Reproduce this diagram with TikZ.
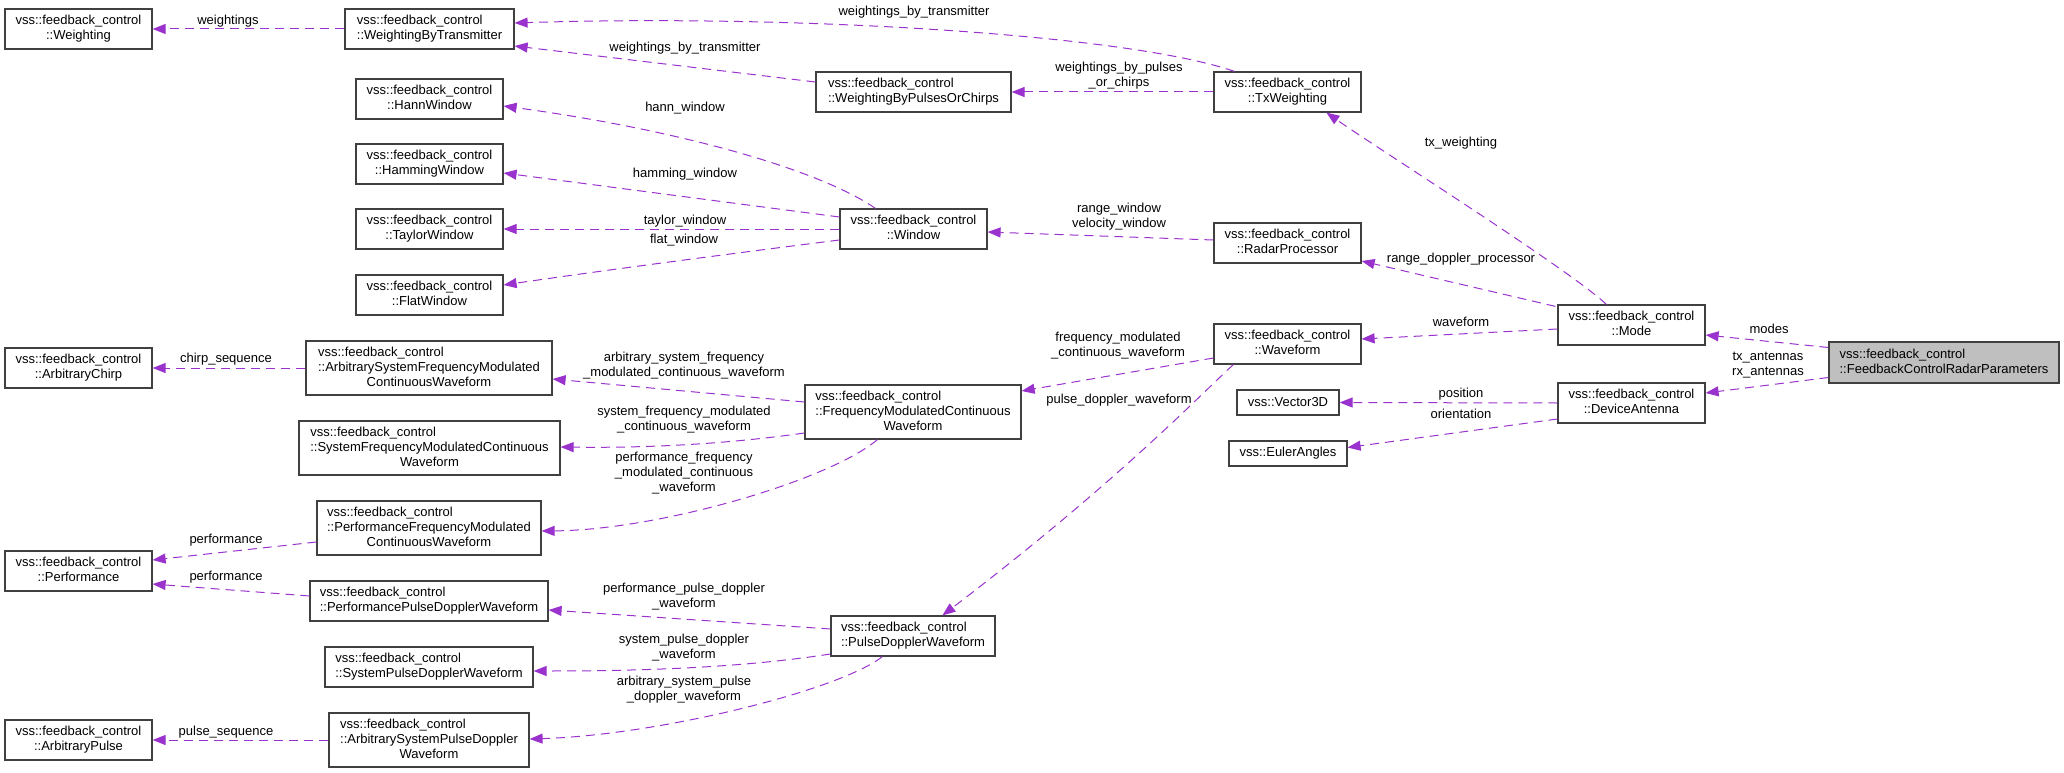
\documentclass[tikz,border=0pt]{standalone}
\usepackage{fontspec}
\setmainfont{Liberation Sans}
\usetikzlibrary{arrows.meta,calc}
\definecolor{edgec}{HTML}{9A32CD}
\definecolor{boxc}{HTML}{404040}
\definecolor{mainfill}{HTML}{BFBFBF}
\newcommand\fs{\fontsize{13}{15}\selectfont}
\newcommand\clsb[2]{\begin{tabular}{@{}l@{}}#1\\\multicolumn{1}{@{}c@{}}{#2}\end{tabular}}
\newcommand\clsc[3]{\begin{tabular}{@{}l@{}}#1\\#2\\\multicolumn{1}{@{}c@{}}{#3}\end{tabular}}
\newcommand\vfc{vss::feedback\_control}
\begin{document}
\begin{tikzpicture}[x=1pt,y=-1pt,
  cls/.style={draw=boxc, line width=1.2pt, fill=white, inner sep=0pt, font=\fs, text=black},
  bx/.style={cls, minimum width=147pt, minimum height=40pt},
  lab/.style={font=\fs, align=center, inner sep=0pt, text=black},
  rel/.style={draw=edgec, line width=1pt, dash pattern=on 9pt off 6pt, -{Triangle[length=13pt,width=10pt]}}]
\useasboundingbox (0,0) rectangle (2064,773);

% ---- nodes ----
\node[bx] (wt) at (78.5,29) {\clsb{\vfc}{::Weighting}};
\node[cls, minimum width=169pt, minimum height=40pt] (wbt) at (429.5,29) {\clsb{\vfc}{::WeightingByTransmitter}};
\node[cls, minimum width=195pt, minimum height=40pt] (wbpoc) at (913.5,92) {\clsb{\vfc}{::WeightingByPulsesOrChirps}};
\node[bx] (txw) at (1287.5,92) {\clsb{\vfc}{::TxWeighting}};
\node[bx] (hann) at (429.5,99) {\clsb{\vfc}{::HannWindow}};
\node[bx] (hamm) at (429.5,164) {\clsb{\vfc}{::HammingWindow}};
\node[bx] (taylor) at (429.5,229) {\clsb{\vfc}{::TaylorWindow}};
\node[bx] (flat) at (429.5,295) {\clsb{\vfc}{::FlatWindow}};
\node[bx] (win) at (913.5,229) {\clsb{\vfc}{::Window}};
\node[bx] (rp) at (1287.5,243) {\clsb{\vfc}{::RadarProcessor}};
\node[bx] (mode) at (1631.5,325) {\clsb{\vfc}{::Mode}};
\node[cls, fill=mainfill, minimum width=230pt, minimum height=41pt] (fcrp) at (1944,362.5) {\clsb{\vfc}{::FeedbackControlRadarParameters}};
\node[bx] (da) at (1631.5,403) {\clsb{\vfc}{::DeviceAntenna}};
\node[bx] (wave) at (1287.5,344) {\clsb{\vfc}{::Waveform}};
\node[cls, minimum width=102pt, minimum height=25pt] (v3d) at (1288,402.5) {vss::Vector3D};
\node[cls, minimum width=118pt, minimum height=25pt] (euler) at (1288,453.5) {vss::EulerAngles};
\node[cls, minimum width=216pt, minimum height=54pt] (fmcw) at (913,412) {\clsc{\vfc}{::FrequencyModulatedContinuous}{Waveform}};
\node[bx] (achirp) at (78.5,368) {\clsb{\vfc}{::ArbitraryChirp}};
\node[cls, minimum width=246pt, minimum height=54pt] (asfmcw) at (429,368) {\clsc{\vfc}{::ArbitrarySystemFrequencyModulated}{ContinuousWaveform}};
\node[cls, minimum width=261pt, minimum height=54pt] (sfmcw) at (429.5,448) {\clsc{\vfc}{::SystemFrequencyModulatedContinuous}{Waveform}};
\node[cls, minimum width=224pt, minimum height=54pt] (pfmcw) at (429,528) {\clsc{\vfc}{::PerformanceFrequencyModulated}{ContinuousWaveform}};
\node[bx] (perf) at (78.5,571) {\clsb{\vfc}{::Performance}};
\node[cls, minimum width=238pt, minimum height=40pt] (ppdw) at (429,601) {\clsb{\vfc}{::PerformancePulseDopplerWaveform}};
\node[cls, minimum width=208pt, minimum height=40pt] (spdw) at (429,667) {\clsb{\vfc}{::SystemPulseDopplerWaveform}};
\node[cls, minimum width=200pt, minimum height=54pt] (aspdw) at (429,740) {\clsc{\vfc}{::ArbitrarySystemPulseDoppler}{Waveform}};
\node[bx] (apulse) at (78.5,740) {\clsb{\vfc}{::ArbitraryPulse}};
\node[cls, minimum width=164pt, minimum height=40pt] (pdw) at (913,636) {\clsb{\vfc}{::PulseDopplerWaveform}};

% ---- connectors ----
\draw[rel] (wbt.west) -- (wt.east);
\draw[rel] ($(txw.north west)+(21,0)$) .. controls (1130,35) and (800,14) .. ($(wbt.east)+(0,-6)$);
\draw[rel] ($(wbpoc.west)+(0,-10)$) -- ($(wbt.east)+(0,17)$);
\draw[rel] (txw.west) -- (wbpoc.east);
\draw[rel] ($(win.north west)+(36,0)$) .. controls (820,170) and (680,130) .. ($(hann.east)+(0,7)$);
\draw[rel] ($(win.west)+(0,-12)$) -- ($(hamm.east)+(0,9)$);
\draw[rel] (win.west) -- (taylor.east);
\draw[rel] ($(win.west)+(0,11)$) .. controls (760,250) and (620,268) .. ($(flat.east)+(0,-10)$);
\draw[rel] ($(rp.west)+(0,-3)$) -- ($(win.east)+(0,3)$);
\draw[rel] ($(mode.north west)+(49,0)$) .. controls (1570,270) and (1380,150) .. ($(txw.south west)+(113,0)$);
\draw[rel] ($(mode.north west)+(-2,2)$) -- ($(rp.east)+(0,18)$);
\draw[rel] ($(mode.west)+(0,4)$) -- ($(wave.east)+(0,-5)$);
\draw[rel] ($(fcrp.west)+(0,-15)$) -- ($(mode.east)+(0,10)$);
\draw[rel] ($(fcrp.west)+(0,15)$) -- ($(da.east)+(0,-10)$);
\draw[rel] (da.west) -- (v3d.east);
\draw[rel] ($(da.west)+(0,16)$) -- ($(euler.east)+(0,-6)$);
\draw[rel] ($(wave.west)+(0,14)$) -- ($(fmcw.east)+(0,-21)$);
\draw[rel] ($(wave.south west)+(20,0)$) .. controls (1205,390) and (1120,480) .. ($(pdw.north west)+(112,0)$);
\draw[rel] ($(fmcw.west)+(0,-10)$) -- ($(asfmcw.east)+(0,11)$);
\draw[rel] ($(fmcw.west)+(0,21)$) .. controls (720,445) and (640,448) .. ($(sfmcw.east)+(0,-1)$);
\draw[rel] ($(fmcw.south west)+(73,0)$) .. controls (830,480) and (660,530) .. ($(pfmcw.east)+(0,3)$);
\draw[rel] (asfmcw.west) -- (achirp.east);
\draw[rel] ($(pfmcw.west)+(0,14)$) -- ($(perf.east)+(0,-11)$);
\draw[rel] ($(ppdw.west)+(0,-5)$) -- ($(perf.east)+(0,13)$);
\draw[rel] ($(pdw.west)+(0,-7)$) -- ($(ppdw.east)+(0,9)$);
\draw[rel] ($(pdw.west)+(0,18)$) .. controls (740,668) and (640,671) .. ($(spdw.east)+(0,4)$);
\draw[rel] ($(pdw.south west)+(52,0)$) .. controls (840,690) and (660,735) .. ($(aspdw.east)+(0,-1)$);
\draw[rel] (aspdw.west) -- (apulse.east);

% ---- labels ----
\node[lab] (l1) at (228,21) {weightings};
\node[lab] (l2) at (914,12) {weightings\_by\_transmitter};
\node[lab] (l3) at (685,48) {weightings\_by\_transmitter};
\node[lab] (l4) at (1119,76) {weightings\_by\_pulses\\\_or\_chirps};
\node[lab] (l5) at (685,108) {hann\_window};
\node[lab] (l6) at (685,174) {hamming\_window};
\node[lab] (l7) at (685,221) {taylor\_window};
\node[lab] (l8) at (684,240) {flat\_window};
\node[lab] (l9) at (1119,217) {range\_window\\velocity\_window};
\node[lab] (l10) at (1461,143) {tx\_weighting};
\node[lab] (l11) at (1461,259) {range\_doppler\_processor};
\node[lab] (l12) at (1461,322) {waveform};
\node[lab] (l13) at (1769,329) {modes};
\node[lab] (l14) at (1768,365.5) {tx\_antennas\\rx\_antennas};
\node[lab] (l15) at (1461,394) {position};
\node[lab] (l16) at (1461,414) {orientation};
\node[lab] (l17) at (1118,345.5) {frequency\_modulated\\\_continuous\_waveform};
\node[lab] (l18) at (1119,400) {pulse\_doppler\_waveform};
\node[lab] (l19) at (684,366) {arbitrary\_system\_frequency\\\_modulated\_continuous\_waveform};
\node[lab] (l20) at (684,420) {system\_frequency\_modulated\\\_continuous\_waveform};
\node[lab] (l21) at (684,473.5) {performance\_frequency\\\_modulated\_continuous\\\_waveform};
\node[lab] (l22) at (226,359) {chirp\_sequence};
\node[lab] (l23) at (226,540) {performance};
\node[lab] (l24) at (226,577) {performance};
\node[lab] (l25) at (684,596.5) {performance\_pulse\_doppler\\\_waveform};
\node[lab] (l26) at (684,647.5) {system\_pulse\_doppler\\\_waveform};
\node[lab] (l27) at (684,689.5) {arbitrary\_system\_pulse\\\_doppler\_waveform};
\node[lab] (l28) at (226,732) {pulse\_sequence};
\end{tikzpicture}
\end{document}
